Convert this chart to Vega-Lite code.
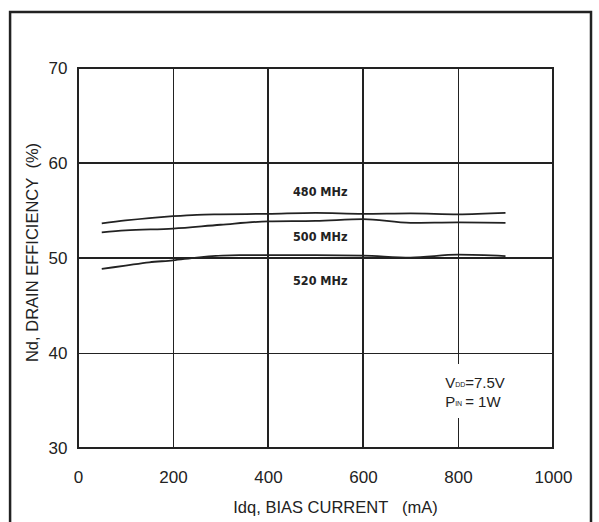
{
  "$schema": "https://vega.github.io/schema/vega-lite/v6.json",
  "width": 475,
  "height": 380,
  "autosize": "none",
  "padding": {"left": 78, "top": 68, "right": 46, "bottom": 74},
  "background": "white",
  "config": {
    "view": {"stroke": "#222", "strokeWidth": 2},
    "font": "Liberation Sans"
  },
  "datasets": {
    "curves": [
      {"idq": 50, "eff": 53.65, "freq": "480 MHz"},
      {"idq": 100, "eff": 53.95, "freq": "480 MHz"},
      {"idq": 150, "eff": 54.2, "freq": "480 MHz"},
      {"idq": 200, "eff": 54.4, "freq": "480 MHz"},
      {"idq": 250, "eff": 54.55, "freq": "480 MHz"},
      {"idq": 300, "eff": 54.6, "freq": "480 MHz"},
      {"idq": 400, "eff": 54.65, "freq": "480 MHz"},
      {"idq": 500, "eff": 54.75, "freq": "480 MHz"},
      {"idq": 600, "eff": 54.65, "freq": "480 MHz"},
      {"idq": 700, "eff": 54.7, "freq": "480 MHz"},
      {"idq": 800, "eff": 54.6, "freq": "480 MHz"},
      {"idq": 900, "eff": 54.75, "freq": "480 MHz"},
      {"idq": 50, "eff": 52.7, "freq": "500 MHz"},
      {"idq": 100, "eff": 52.9, "freq": "500 MHz"},
      {"idq": 200, "eff": 53.1, "freq": "500 MHz"},
      {"idq": 300, "eff": 53.5, "freq": "500 MHz"},
      {"idq": 400, "eff": 53.85, "freq": "500 MHz"},
      {"idq": 500, "eff": 53.9, "freq": "500 MHz"},
      {"idq": 600, "eff": 54.1, "freq": "500 MHz"},
      {"idq": 700, "eff": 53.7, "freq": "500 MHz"},
      {"idq": 800, "eff": 53.75, "freq": "500 MHz"},
      {"idq": 900, "eff": 53.7, "freq": "500 MHz"},
      {"idq": 50, "eff": 48.85, "freq": "520 MHz"},
      {"idq": 100, "eff": 49.2, "freq": "520 MHz"},
      {"idq": 150, "eff": 49.55, "freq": "520 MHz"},
      {"idq": 200, "eff": 49.75, "freq": "520 MHz"},
      {"idq": 250, "eff": 50.05, "freq": "520 MHz"},
      {"idq": 340, "eff": 50.3, "freq": "520 MHz"},
      {"idq": 500, "eff": 50.3, "freq": "520 MHz"},
      {"idq": 600, "eff": 50.25, "freq": "520 MHz"},
      {"idq": 700, "eff": 50.05, "freq": "520 MHz"},
      {"idq": 800, "eff": 50.35, "freq": "520 MHz"},
      {"idq": 900, "eff": 50.2, "freq": "520 MHz"}
    ],
    "curveLabels": [
      {"idq": 510, "eff": 56.98, "label": "480 MHz"},
      {"idq": 510, "eff": 52.24, "label": "500 MHz"},
      {"idq": 510, "eff": 47.63, "label": "520 MHz"}
    ]
  },
  "encoding": {
    "x": {
      "field": "idq", "type": "quantitative",
      "scale": {"domain": [0, 1000], "nice": false, "zero": false},
      "axis": {
        "values": [0, 200, 400, 600, 800, 1000], "format": "d",
        "grid": true, "gridColor": "#222", "gridWidth": 1, "gridOpacity": 1,
        "domain": false, "ticks": false,
        "labelPadding": 21, "labelFontSize": 17, "labelColor": "#222",
        "labelFont": "Liberation Sans", "labelFlush": false,
        "title": "Idq, BIAS CURRENT\u00a0\u00a0\u00a0(mA)",
        "titleFontSize": 16.5, "titleFontWeight": "normal", "titleColor": "#222",
        "titleFont": "Liberation Sans",
        "titleX": 257, "titleY": 59, "titleBaseline": "middle"
      }
    },
    "y": {
      "field": "eff", "type": "quantitative",
      "scale": {"domain": [30, 70], "nice": false, "zero": false},
      "axis": {
        "values": [30, 40, 50, 60, 70],
        "grid": true, "gridColor": "#222", "gridWidth": 1, "gridOpacity": 1,
        "domain": false, "ticks": false,
        "labelPadding": 11, "labelFontSize": 17, "labelColor": "#222",
        "labelFont": "Liberation Sans", "labelFlush": false,
        "title": "Nd, DRAIN EFFICIENCY\u00a0\u00a0(%)",
        "titleFontSize": 16.5, "titleFontWeight": "normal", "titleColor": "#222",
        "titleFont": "Liberation Sans",
        "titleX": -46, "titleY": 184, "titleBaseline": "middle", "titleAngle": -90
      }
    }
  },
  "layer": [
    {
      "data": {"values": [{"x1": -143, "x2": 1080, "y1": 75.9, "y2": 21}]},
      "mark": {"type": "rect", "fill": null, "fillOpacity": 0, "stroke": "#222", "strokeWidth": 2.5, "clip": false},
      "encoding": {
        "x": {"field": "x1", "type": "quantitative"},
        "x2": {"field": "x2"},
        "y": {"field": "y1", "type": "quantitative"},
        "y2": {"field": "y2"}
      }
    },
    {
      "data": {"values": [{"x1": 762, "x2": 925, "y1": 38.84, "y2": 33.16}]},
      "mark": {"type": "rect", "fill": "white", "stroke": null},
      "encoding": {
        "x": {"field": "x1", "type": "quantitative"},
        "x2": {"field": "x2"},
        "y": {"field": "y1", "type": "quantitative"},
        "y2": {"field": "y2"}
      }
    },
    {
      "data": {"values": [{"v": 400}, {"v": 600}]},
      "mark": {"type": "rule", "color": "#222", "strokeWidth": 2},
      "encoding": {"x": {"field": "v", "type": "quantitative"}, "y": {"value": 0}, "y2": {"value": 380}}
    },
    {
      "data": {"values": [{"v": 50}, {"v": 60}]},
      "mark": {"type": "rule", "color": "#222", "strokeWidth": 2},
      "encoding": {"y": {"field": "v", "type": "quantitative"}, "x": {"value": 0}, "x2": {"value": 475}}
    },
    {
      "data": {"name": "curves"},
      "mark": {"type": "line", "color": "#222", "strokeWidth": 1.8, "interpolate": "monotone"},
      "encoding": {"detail": {"field": "freq", "type": "nominal"}}
    },
    {
      "data": {"name": "curveLabels"},
      "mark": {"type": "text", "font": "DejaVu Sans Condensed, Liberation Sans", "fontWeight": "bold", "fontSize": 12.5, "color": "#222", "align": "center", "baseline": "middle"},
      "encoding": {"text": {"field": "label", "type": "nominal"}}
    },
    {
      "data": {"values": [{"idq": 773, "eff": 36.84, "big": "V", "sub": "DD", "rest": "=7.5V"}, {"idq": 773, "eff": 34.84, "big": "P", "sub": "IN", "rest": "= 1W"}]},
      "layer": [
        {
          "mark": {"type": "text", "font": "Liberation Sans", "fontSize": 15, "color": "#222", "align": "left", "baseline": "middle"},
          "encoding": {"text": {"field": "big", "type": "nominal"}}
        },
        {
          "mark": {"type": "text", "font": "Liberation Sans", "fontSize": 7, "color": "#222", "align": "left", "baseline": "middle", "dx": 10, "dy": 1.5},
          "encoding": {"text": {"field": "sub", "type": "nominal"}}
        },
        {
          "mark": {"type": "text", "font": "Liberation Sans", "fontSize": 15, "color": "#222", "align": "left", "baseline": "middle", "dx": 20},
          "encoding": {"text": {"field": "rest", "type": "nominal"}}
        }
      ]
    }
  ]
}
